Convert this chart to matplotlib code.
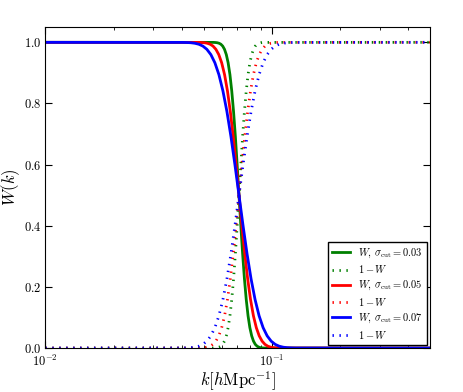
import numpy as np
import matplotlib
matplotlib.use("Agg")
import matplotlib.pyplot as plt

plt.rcParams['mathtext.fontset'] = 'cm'
plt.rcParams['font.family'] = 'serif'
plt.rcParams['font.serif'] = ['cmr10', 'DejaVu Serif']
plt.rcParams['axes.formatter.use_mathtext'] = True
plt.rcParams['axes.unicode_minus'] = False
plt.rcParams['lines.scale_dashes'] = False

# W levels (same shape for every sigma, only wider)
w_levels = [1.0, 0.9998, 0.9994, 0.9987, 0.9970, 0.9938, 0.9878, 0.9772, 0.9599,
            0.9332, 0.8944, 0.8413, 0.7734, 0.6915, 0.5987, 0.5, 0.4013, 0.3085,
            0.2266, 0.1587, 0.1056, 0.0668, 0.0401, 0.0228, 0.0122, 0.0062,
            0.0030, 0.0013, 0.0006, 0.0002, 0.0]
one_minus_w = [0.0, 0.0002, 0.0006, 0.0013, 0.0030, 0.0062, 0.0122, 0.0228, 0.0401,
               0.0668, 0.1056, 0.1587, 0.2266, 0.3085, 0.4013, 0.5, 0.5987, 0.6915,
               0.7734, 0.8413, 0.8944, 0.9332, 0.9599, 0.9772, 0.9878, 0.9938,
               0.9970, 0.9987, 0.9994, 0.9998, 1.0]

# k positions where each curve passes those levels
k_003 = [0.01, 0.05533, 0.05636, 0.05741, 0.05848, 0.05956, 0.06067, 0.06180,
         0.06295, 0.06412, 0.06531, 0.06652, 0.06776, 0.06902, 0.07030, 0.07161,
         0.07294, 0.07430, 0.07568, 0.07709, 0.07852, 0.07998, 0.08147, 0.08298,
         0.08452, 0.08610, 0.08770, 0.08933, 0.09099, 0.09268, 0.5]
k_005 = [0.01, 0.04748, 0.04889, 0.05035, 0.05185, 0.05339, 0.05498, 0.05662,
         0.05831, 0.06005, 0.06184, 0.06368, 0.06558, 0.06753, 0.06954, 0.07161,
         0.07374, 0.07594, 0.07820, 0.08053, 0.08293, 0.08540, 0.08794, 0.09056,
         0.09326, 0.09604, 0.09890, 0.10185, 0.10488, 0.10800, 0.5]
k_007 = [0.01, 0.04042, 0.04210, 0.04386, 0.04569, 0.04759, 0.04958, 0.05164,
         0.05380, 0.05604, 0.05838, 0.06081, 0.06335, 0.06599, 0.06874, 0.07161,
         0.07460, 0.07771, 0.08095, 0.08433, 0.08785, 0.09151, 0.09533, 0.09930,
         0.10344, 0.10776, 0.11226, 0.11694, 0.12182, 0.12690, 0.5]

sigmas = ['0.03', '0.05', '0.07']
k_lists = [k_003, k_005, k_007]
colors = ['green', 'red', 'blue']

fig = plt.figure(figsize=(4.63, 3.92), dpi=100)
ax = fig.add_axes([0.098, 0.112, 0.831, 0.819])

for s, k, c in zip(sigmas, k_lists, colors):
    ax.plot(k, w_levels, color=c, lw=2, label=r'$W,\,\sigma_{\rm cut}=%s$' % s)
    ax.plot(k, one_minus_w, color=c, lw=2, linestyle=(0, (1, 4)), label=r'$1-W$')

ax.set_xscale('log')
ax.set_xlim(0.01, 0.5)
ax.set_ylim(0.0, 1.05)
ax.set_yticks([0.0, 0.2, 0.4, 0.6, 0.8, 1.0])
ax.tick_params(which='both', direction='in', top=True, right=True, labelsize=9)
ax.tick_params(which='major', length=5, pad=3)
ax.tick_params(axis='x', which='major', pad=4)
ax.tick_params(which='minor', length=2.5)
ax.set_xlabel(r'$k[h{\rm Mpc}^{-1}]$', fontsize=12)
ax.xaxis.set_label_coords(0.5, -0.068)
ax.set_ylabel(r'$W(k)$', fontsize=12)
ax.yaxis.set_label_coords(-0.06, 0.5)

leg = ax.legend(loc='lower right', fontsize=7.5, handlelength=1.7, fancybox=False,
                edgecolor='black', framealpha=1, borderaxespad=0.3, labelspacing=0.35)
leg.get_frame().set_linewidth(1.0)

fig.savefig('out.png', dpi=100, facecolor='white')
